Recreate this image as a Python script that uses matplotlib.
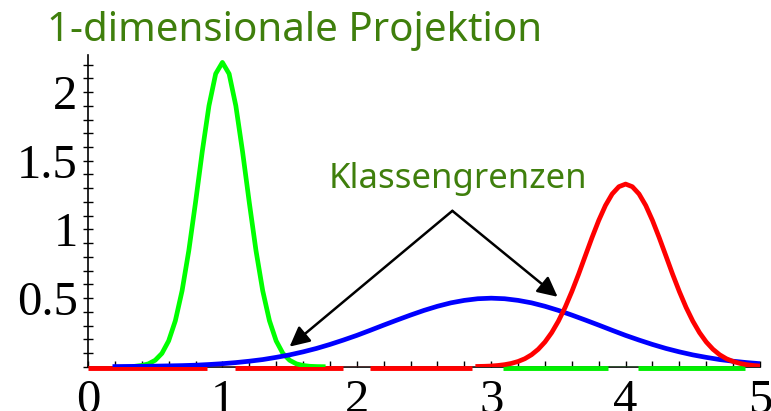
import matplotlib.pyplot as plt
from matplotlib.ticker import MultipleLocator

# Werte
x_gruen = [0.35, 0.40, 0.45, 0.50, 0.55, 0.60, 0.65, 0.70, 0.75, 0.80, 0.85, 0.90, 0.95, 1.00,
           1.05, 1.10, 1.15, 1.20, 1.25, 1.30, 1.35, 1.40, 1.45, 1.50, 1.55, 1.60, 1.65, 1.70, 1.75]
y_gruen = [0.003, 0.009, 0.021, 0.047, 0.097, 0.188, 0.335, 0.553, 0.845, 1.196, 1.566, 1.900, 2.133, 2.216,
           2.133, 1.900, 1.566, 1.196, 0.845, 0.553, 0.335, 0.188, 0.097, 0.047, 0.021, 0.009, 0.003, 0.001, 0.0]

x_blau = [0.2, 0.3, 0.4, 0.5, 0.6, 0.7, 0.8, 0.9, 1.0, 1.1, 1.2, 1.3, 1.4, 1.5, 1.6, 1.7, 1.8, 1.9,
          2.0, 2.1, 2.2, 2.3, 2.4, 2.5, 2.6, 2.7, 2.8, 2.9, 3.0, 3.1, 3.2, 3.3, 3.4, 3.5, 3.6, 3.7,
          3.8, 3.9, 4.0, 4.1, 4.2, 4.3, 4.4, 4.5, 4.6, 4.7, 4.8, 4.9, 5.0]
y_blau = [0.001, 0.002, 0.003, 0.004, 0.006, 0.008, 0.011, 0.016, 0.022, 0.030, 0.040, 0.052, 0.068,
          0.086, 0.108, 0.133, 0.162, 0.194, 0.228, 0.265, 0.303, 0.340, 0.376, 0.410, 0.440, 0.465,
          0.483, 0.495, 0.499, 0.495, 0.483, 0.465, 0.440, 0.410, 0.376, 0.340, 0.303, 0.265, 0.228,
          0.194, 0.162, 0.133, 0.108, 0.086, 0.068, 0.052, 0.040, 0.030, 0.022]

x_rot = [2.90, 2.95, 3.00, 3.05, 3.10, 3.15, 3.20, 3.25, 3.30, 3.35, 3.40, 3.45, 3.50, 3.55, 3.60,
         3.65, 3.70, 3.75, 3.80, 3.85, 3.90, 3.95, 4.00, 4.05, 4.10, 4.15, 4.20, 4.25, 4.30, 4.35,
         4.40, 4.45, 4.50, 4.55, 4.60, 4.65, 4.70, 4.75, 4.80, 4.85, 4.90, 4.95, 5.00]
y_rot = [0.002, 0.003, 0.005, 0.009, 0.015, 0.024, 0.038, 0.058, 0.087, 0.127, 0.180, 0.248, 0.332,
         0.432, 0.547, 0.673, 0.807, 0.940, 1.065, 1.174, 1.258, 1.311, 1.330, 1.311, 1.258, 1.174,
         1.065, 0.940, 0.807, 0.673, 0.547, 0.432, 0.332, 0.248, 0.180, 0.127, 0.087, 0.058, 0.038,
         0.024, 0.015, 0.009, 0.005]

# Klassenzuordnung auf der x-Achse (Anfang, Ende)
rot_abschnitte = [(0.0, 0.885), (1.093, 1.896), (2.097, 2.855)]
gruen_abschnitte = [(3.085, 3.866), (4.089, 4.885)]

grenzen = [(1.50, 0.146), (3.494, 0.509)]
pfeil_start = (2.711, 1.135)

textgruen = '#3f7f0c'

fig = plt.figure(figsize=(7.71, 4.11), dpi=100)
ax = fig.add_axes([88 / 771, 44.3 / 411, 672 / 771, 311.7 / 411])

# Achsenlinie in den Klassenfarben
ax.plot([0, 3.0], [0, 0], color='#ff6060', lw=1, zorder=3)
ax.plot([3.0, 5.0], [0, 0], color='#66ff66', lw=1, zorder=3)
for a, b in rot_abschnitte:
    ax.plot([a, b], [-0.008, -0.008], color='#ff0000', lw=3.5, solid_capstyle='butt', zorder=3,
            clip_on=False)
for a, b in gruen_abschnitte:
    ax.plot([a, b], [-0.008, -0.008], color='#00ee00', lw=3.5, solid_capstyle='butt', zorder=3,
            clip_on=False)

ax.plot(x_gruen, y_gruen, color='#00ff00', lw=3.4, zorder=4)
ax.plot(x_blau, y_blau, color='#0000ff', lw=3.4, zorder=4)
ax.plot(x_rot, y_rot, color='#ff0000', lw=3.4, zorder=5)

for p in grenzen:
    ax.annotate('', xy=p, xytext=pfeil_start,
                arrowprops=dict(arrowstyle='-|>', color='black', lw=1.8,
                                mutation_scale=30, shrinkA=0, shrinkB=0), zorder=6)

ax.text(2.75, 1.37, 'Klassengrenzen', color=textgruen, fontsize=25,
        family='Noto Sans', ha='center', va='center')

fig.text(47 / 771, 1 - 41 / 411, '1-dimensionale Projektion', color=textgruen,
         fontsize=29, family='Noto Sans', ha='left', va='baseline')

ax.set_xlim(0, 5)
ax.set_ylim(0, 2.27)
ax.spines['top'].set_visible(False)
ax.spines['right'].set_visible(False)
ax.spines['left'].set_linewidth(1.2)
ax.spines['bottom'].set_linewidth(1.2)

ax.xaxis.set_minor_locator(MultipleLocator(0.2))
ax.yaxis.set_minor_locator(MultipleLocator(0.1))
ax.set_yticks([0.5, 1, 1.5, 2])
ax.set_yticklabels(['0.5', '1', '1.5', '2'])
ax.set_xticks([0, 1, 2, 3, 4, 5])
ax.set_xticklabels(['0', '1', '2', '3', '4', '5'])

ax.tick_params(axis='x', which='both', direction='in', length=4, width=1, pad=9)
ax.tick_params(axis='y', which='both', direction='inout', length=7, width=1, pad=4)
for lab in ax.get_xticklabels() + ax.get_yticklabels():
    lab.set_fontfamily('Liberation Serif')
    lab.set_fontsize(35)

fig.savefig('out.png', dpi=100)
